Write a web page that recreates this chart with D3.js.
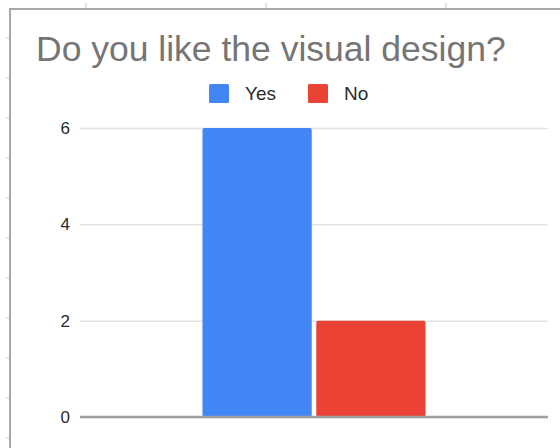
<!DOCTYPE html>
<html>
<head>
<meta charset="utf-8">
<script src="https://cdn.jsdelivr.net/npm/d3@7"></script>
<style>
  html, body { margin: 0; padding: 0; background: #fff; }
  svg { display: block; }
</style>
</head>
<body>
<svg id="chart" width="560" height="448"></svg>
<script>
const title = "Do you like the visual design?";
const categories = [""];
const seriesNames = ["Yes", "No"];
const seriesColors = ["#4285f4", "#ea4335"];
const yesValues = [6];
const noValues = [2];
const yTicks = [0, 2, 4, 6];

const svg = d3.select("#chart");
const font = "'Liberation Sans', Arial, sans-serif";

// faint sheet grid marks outside the chart frame
const topMarks = [86, 266, 446];
svg.selectAll("line.tm").data(topMarks).join("line")
  .attr("x1", d => d).attr("x2", d => d).attr("y1", 3).attr("y2", 8)
  .attr("stroke", "#dcdcdc").attr("stroke-width", 1.5);
const leftMarks = d3.range(38, 440, 40);
svg.selectAll("line.lm").data(leftMarks).join("line")
  .attr("x1", 6).attr("x2", 9).attr("y1", d => d).attr("y2", d => d)
  .attr("stroke", "#dcdcdc").attr("stroke-width", 1.5);

// chart frame
svg.append("rect")
  .attr("x", 10).attr("y", 9).attr("width", 600).attr("height", 500)
  .attr("fill", "#fff").attr("stroke", "#a8a8a8").attr("stroke-width", 2);

// title
svg.append("text")
  .attr("x", 36).attr("y", 61)
  .attr("font-family", font).attr("font-size", 35.5)
  .attr("fill", "#757575")
  .text(title);

// scales
const plot = { left: 80, right: 548, top: 128, bottom: 417 };
const y = d3.scaleLinear().domain([0, 6]).range([plot.bottom, plot.top]);
const x0 = d3.scaleBand().domain(categories).range([plot.left, plot.right])
  .paddingInner(0).paddingOuter(0.549);
const x1 = d3.scaleBand().domain(seriesNames).range([0, x0.bandwidth()]).paddingInner(0.04);
const color = d3.scaleOrdinal().domain(seriesNames).range(seriesColors);

// gridlines
const grid = d3.axisLeft(y).tickValues(yTicks).tickSize(-(plot.right - plot.left)).tickFormat("");
const gg = svg.append("g").attr("transform", `translate(${plot.left},0)`).call(grid);
gg.select(".domain").remove();
gg.selectAll(".tick line").attr("stroke", "#e3e3e3").attr("stroke-width", 1.5);

// tick labels
const ax = d3.axisLeft(y).tickValues(yTicks).tickSize(0).tickPadding(10).tickFormat(d3.format("d"));
const ag = svg.append("g").attr("transform", `translate(${plot.left},0)`).call(ax);
ag.select(".domain").remove();
ag.selectAll(".tick text")
  .attr("font-family", font).attr("font-size", 17).attr("fill", "#2a2a2a");

// bars
const rows = categories.map((c, i) => ({ cat: c, vals: [
  { key: "Yes", value: yesValues[i] },
  { key: "No", value: noValues[i] }
]}));
const grp = svg.selectAll("g.cat").data(rows).join("g")
  .attr("transform", d => `translate(${x0(d.cat)},0)`);
grp.selectAll("rect").data(d => d.vals).join("rect")
  .attr("x", d => x1(d.key))
  .attr("width", x1.bandwidth())
  .attr("y", d => y(d.value))
  .attr("height", d => y(0) - y(d.value))
  .attr("rx", 2)
  .attr("fill", d => color(d.key));

// baseline
svg.append("line")
  .attr("x1", plot.left).attr("x2", plot.right)
  .attr("y1", y(0)).attr("y2", y(0))
  .attr("stroke", "#9e9e9e").attr("stroke-width", 2.5);

// legend
const legendX = [209, 308];
const lg = svg.selectAll("g.leg").data(seriesNames).join("g")
  .attr("transform", (d, i) => `translate(${legendX[i]},84)`);
lg.append("rect").attr("width", 20).attr("height", 19).attr("rx", 1.5)
  .attr("fill", d => color(d));
lg.append("text").attr("x", 36).attr("y", 16)
  .attr("font-family", font).attr("font-size", 19).attr("fill", "#2a2a2a")
  .text(d => d);
</script>
</body>
</html>
